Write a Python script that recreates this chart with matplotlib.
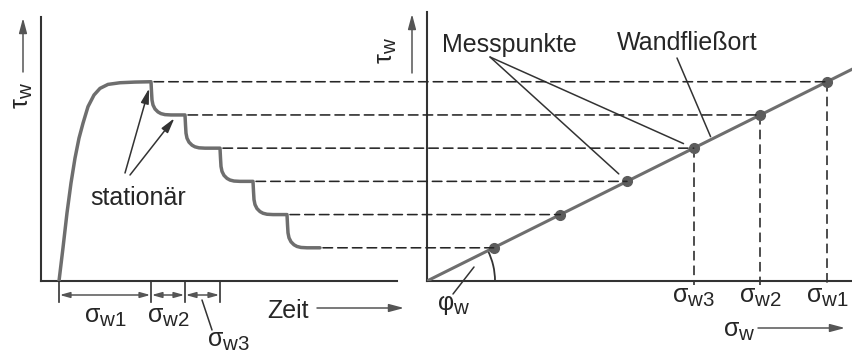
import numpy as np
import matplotlib
matplotlib.use("Agg")
import matplotlib.pyplot as plt
import matplotlib._mathtext as _mt
from matplotlib.patches import ConnectionPatch, Arc

plt.rcParams['font.family'] = ['Liberation Sans', 'DejaVu Sans']
plt.rcParams['mathtext.fontset'] = 'custom'
plt.rcParams['mathtext.rm'] = 'Liberation Sans'
plt.rcParams['mathtext.it'] = 'Liberation Sans'
plt.rcParams['mathtext.bf'] = 'Liberation Sans:bold'
# slightly larger subscripts than the mathtext default
_mt.SHRINK_FACTOR = 0.82

# ---- data -------------------------------------------------------------
# stationary wall shear stress of each load step
tau_levels = [6.0, 5.0, 4.0, 3.0, 2.0, 1.0]
# time at which each stationary plateau ends (load is reduced)
t_plateau_end = [11.0, 14.4, 17.9, 21.2, 24.6, 27.9]
# normal stress belonging to each stationary shear stress
sigma_points = [6.0, 5.0, 4.0, 3.0, 2.0, 1.0]
# slope of the wall yield locus tau_w = tan(phi_w) * sigma_w
wall_slope = 1.0
# normal stresses marked on the sigma axis
sigma_marked = [4.0, 5.0, 6.0]
sigma_marked_labels = ['σ_{w3}', 'σ_{w2}', 'σ_{w1}']
# shear stress over time during the test
t_curve = [1.8, 2.2, 2.6, 3.0, 3.4, 3.8, 4.2, 4.7, 5.3, 5.9, 6.7, 7.9, 9.4, 11.0,
           11.05, 11.1, 11.2, 11.4, 11.7, 12.0, 12.4, 13.0, 14.4,
           14.45, 14.5, 14.6, 14.8, 15.1, 15.4, 15.8, 16.4, 17.9,
           17.95, 18.0, 18.1, 18.3, 18.6, 18.9, 19.3, 19.9, 21.2,
           21.25, 21.3, 21.4, 21.6, 21.9, 22.2, 22.6, 23.2, 24.6,
           24.65, 24.7, 24.8, 25.0, 25.3, 25.6, 26.0, 26.6, 27.9]
tau_curve = [0.0, 1.0, 2.05, 2.95, 3.7, 4.3, 4.75, 5.25, 5.6, 5.8, 5.92, 5.97, 5.99, 6.0,
             5.7, 5.45, 5.3, 5.18, 5.09, 5.04, 5.01, 5.0, 5.0,
             4.7, 4.45, 4.3, 4.18, 4.09, 4.04, 4.01, 4.0, 4.0,
             3.7, 3.45, 3.3, 3.18, 3.09, 3.04, 3.01, 3.0, 3.0,
             2.7, 2.45, 2.3, 2.18, 2.09, 2.04, 2.01, 2.0, 2.0,
             1.7, 1.45, 1.3, 1.18, 1.09, 1.04, 1.01, 1.0, 1.0]
# time intervals of the first three load steps
t_intervals = [t_curve[0], t_plateau_end[0], t_plateau_end[1], t_plateau_end[2]]
interval_labels = ['σ_{w1}', 'σ_{w2}', 'σ_{w3}']

# ---- layout -----------------------------------------------------------
W, H = 853, 353
fig = plt.figure(figsize=(W / 100, H / 100), dpi=100)
fig.patch.set_facecolor('white')

base_y = 281          # pixel row of both horizontal axes
top_y = 12
ymax = 8.1


def fpos(x, y):
    """figure-fraction position from pixel column/row (row counted from top)"""
    return x / W, 1 - y / H


axL = fig.add_axes([41 / W, (H - base_y) / H, (397 - 41) / W, (base_y - top_y) / H])
axR = fig.add_axes([427 / W, (H - base_y) / H, (W - 427) / W, (base_y - top_y) / H])
axL.set_xlim(0, 35.6)
axR.set_xlim(0, 6.39)
for ax in (axL, axR):
    ax.set_ylim(0, ymax)
    ax.set_xticks([])
    ax.set_yticks([])
    ax.patch.set_alpha(0)
    for s in ('top', 'right'):
        ax.spines[s].set_visible(False)
    for s in ('left', 'bottom'):
        ax.spines[s].set_color('#333333')
        ax.spines[s].set_linewidth(1.5)
axL.spines['left'].set_bounds(0, 7.95)

curve_col = '#6e6e6e'
dash_col = '#262626'
txt_col = '#262626'
arrow_col = '#555555'
line_col = '#333333'
FS = 18

# test curve
axL.plot(t_curve, tau_curve, color=curve_col, lw=2.5, solid_joinstyle='round',
         solid_capstyle='round', zorder=3)

# wall yield locus and measured points
sig_line = np.array([0.0, 6.6])
axR.plot(sig_line, wall_slope * sig_line, color=curve_col, lw=2.2, zorder=3)
axR.plot(sigma_points, tau_levels, 'o', color='#5c5c5c', ms=7, zorder=4)

# horizontal projection lines from the plateaus to the points
dash = (0, (6, 3.2))
for lev, t_end, sig in zip(tau_levels, t_plateau_end, sigma_points):
    con = ConnectionPatch(xyA=(t_end + 0.3, lev), coordsA=axL.transData,
                          xyB=(sig, lev), coordsB=axR.transData,
                          linestyle=dash, lw=1.15, color=dash_col, zorder=2)
    fig.add_artist(con)

# vertical projection lines to the sigma axis
for sig in sigma_marked:
    axR.plot([sig, sig], [wall_slope * sig, -0.12], linestyle=dash, lw=1.15,
             color=dash_col, clip_on=False, zorder=2)

# labels of the marked normal stresses
for sig, lab in zip(sigma_marked, sigma_marked_labels):
    axR.annotate('$\\mathrm{%s}$' % lab, xy=(sig, 0), xycoords='data',
                 xytext=(0, -15.5), textcoords='offset points',
                 ha='center', va='baseline', fontsize=FS, color=txt_col,
                 annotation_clip=False)

# angle phi_w
px_sig = (W - 427) / 6.39
px_tau = (base_y - top_y) / ymax
r_px = 68
arc = Arc((0, 0), 2 * r_px / px_sig, 2 * r_px / px_tau, theta1=0,
          theta2=np.degrees(np.arctan(wall_slope)), color=line_col, lw=1.3)
axR.add_patch(arc)

# time intervals of the load steps below the time axis
yfrac = lambda y: (base_y - y) / (base_y - top_y)
trL = axL.get_xaxis_transform()
for t in t_intervals:
    axL.plot([t, t], [0, yfrac(302)], transform=trL, color=line_col, lw=1.2,
             clip_on=False)
for t0, t1 in zip(t_intervals[:-1], t_intervals[1:]):
    axL.annotate('', xy=(t1, yfrac(295)), xycoords=trL,
                 xytext=(t0, yfrac(295)), textcoords=trL,
                 arrowprops=dict(arrowstyle='<|-|>,head_length=0.5,head_width=0.14',
                                 color=arrow_col, lw=1.1, shrinkA=0.5, shrinkB=0.5,
                                 mutation_scale=12))
for (t0, t1), lab in zip(zip(t_intervals[:2], t_intervals[1:3]), interval_labels[:2]):
    axL.text((t0 + t1) / 2, yfrac(323), '$\\mathrm{%s}$' % lab, transform=trL,
             ha='center', va='baseline', fontsize=FS, color=txt_col, clip_on=False)


def draw_arrow(start, end, ax=None, arrow=True, shrinkB=0, lw=1.1, color=arrow_col):
    """line (optionally with a filled head) from a pixel position to a target"""
    style = '-|>,head_length=0.6,head_width=0.16' if arrow else '-'
    sx, sy = start[0], H - start[1]
    props = dict(arrowstyle=style, color=color, lw=lw, shrinkA=0,
                 shrinkB=shrinkB, mutation_scale=15)
    if ax is None:
        a = plt.Annotation('', xy=(end[0], H - end[1]), xycoords='figure pixels',
                           xytext=(sx, sy), textcoords='figure pixels',
                           arrowprops=props)
        fig.add_artist(a)
    else:
        ax.annotate('', xy=end, xycoords='data', xytext=(sx, sy),
                    textcoords='figure pixels', annotation_clip=False,
                    arrowprops=props)


# third interval label sits below, with a short leader
fig.text(*fpos(207, 347), '$\\mathrm{%s}$' % interval_labels[2], ha='left',
         va='baseline', fontsize=FS, color=txt_col)
draw_arrow((202, 300), (212, 330), arrow=False, color=line_col)

# axis titles
fig.text(*fpos(23, 95), '$\\mathrm{τ_w}$', rotation=90, ha='center', va='center',
         fontsize=FS, color=txt_col)
draw_arrow((23, 72), (23, 18))
fig.text(*fpos(387, 50), '$\\mathrm{τ_w}$', rotation=90, ha='center', va='center',
         fontsize=FS, color=txt_col)
draw_arrow((412, 73), (412, 14))
fig.text(*fpos(267, 318), 'Zeit', ha='left', va='baseline', fontsize=FS, color=txt_col)
draw_arrow((317, 308), (404, 308))
fig.text(*fpos(723, 337), '$\\mathrm{σ_w}$', ha='left', va='baseline', fontsize=FS,
         color=txt_col)
draw_arrow((758, 328), (845, 328))

# stationary states
fig.text(*fpos(90, 205), 'stationär', ha='left', va='baseline', fontsize=FS,
         color=txt_col)
draw_arrow((125, 173), (t_plateau_end[0], tau_levels[0]), ax=axL, shrinkB=5,
           color=line_col)
draw_arrow((130, 175), (13.6, tau_levels[1]), ax=axL, shrinkB=3, color=line_col)

# measured points
fig.text(*fpos(442, 52), 'Messpunkte', ha='left', va='baseline', fontsize=FS,
         color=txt_col)
draw_arrow((490, 57), (sigma_points[2], tau_levels[2]), ax=axR, arrow=False,
           shrinkB=8, color=line_col)
draw_arrow((490, 57), (sigma_points[3], tau_levels[3]), ax=axR, arrow=False,
           shrinkB=8, color=line_col)

# wall yield locus
fig.text(*fpos(617, 50), 'Wandfließort', ha='left', va='baseline', fontsize=FS,
         color=txt_col)
draw_arrow((677, 58), (4.27, wall_slope * 4.27), ax=axR, arrow=False, shrinkB=2,
           color=line_col)

# wall friction angle
fig.text(*fpos(437, 310), '$\\mathrm{φ_w}$', ha='left', va='baseline', fontsize=FS,
         color=txt_col)
draw_arrow((474, 267), (453, 294), arrow=False, color=line_col)

fig.savefig('out.png', dpi=100, facecolor='white')
